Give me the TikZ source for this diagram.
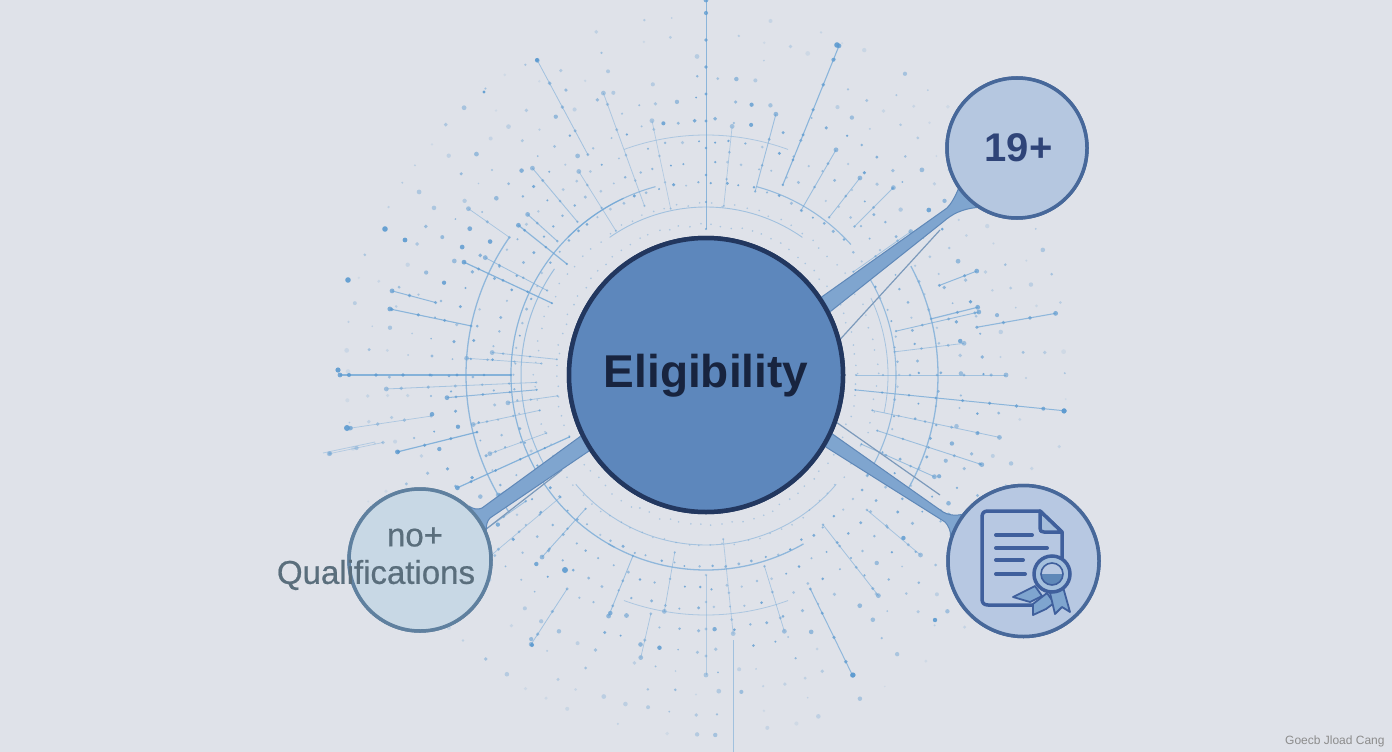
\documentclass[tikz,border=0pt]{standalone}
\usepackage{fontspec}
\setmainfont{Liberation Sans}
\newfontfamily\qualfont[FakeBold=0.6]{Liberation Sans}
\newfontfamily\footfont{Liberation Sans}
\usetikzlibrary{calc}
\definecolor{bgc}{HTML}{DFE2E9}
\definecolor{dotc}{HTML}{5C9AD0}
\definecolor{rayc}{HTML}{6FA6D6}
\definecolor{hubf}{HTML}{5D87BC}
\definecolor{hubd}{HTML}{22375F}
\definecolor{satd}{HTML}{47689A}
\definecolor{quald}{HTML}{5F809F}
\definecolor{spf}{HTML}{7FA5CF}
\definecolor{spd}{HTML}{5F88B8}
\definecolor{hairc}{HTML}{7C9ABB}
\definecolor{icon}{HTML}{3F5F9C}
\definecolor{agef}{HTML}{B5C7E0}
\definecolor{qualf}{HTML}{C8D8E5}
\definecolor{certf}{HTML}{B7C8E2}
\definecolor{qualt}{HTML}{5A6E7C}
\definecolor{aget}{HTML}{2F4478}
\definecolor{hubt}{HTML}{18243F}
\tikzset{
  hubnode/.style={circle,draw=hubd,line width=4.5pt,fill=hubf,minimum size=274pt,inner sep=0pt},
  satnode/.style={circle,draw=satd,line width=3.5pt,fill=#1,inner sep=0pt},
  spoke/.style={fill=spf,draw=spd,line width=1pt,line join=round},
  hair/.style={draw=hairc,line width=1.2pt},
  iconline/.style={draw=icon,line width=3.5pt,line cap=round,line join=round},
  ribbon/.style={draw=icon,line width=1.8pt,fill=spf,line join=round},
  textline/.style={draw=icon,line width=4pt,line cap=round},
  biglabel/.style={font=\qualfont\fontsize{33}{38}\selectfont,text=qualt,inner sep=0pt}
}
% angle, inner radius, outer radius, width, opacity
\newcommand{\rayset}{
  180/195/366/1.1/.8, 177.5/170/320/.8/.5, 175/170/260/1/.7, 171.5/278/360/.7/.45,
  172/150/200/.8/.5, 168/170/238/.8/.5, 166/236/318/1.2/.8, 168.2/330/385/.7/.4,
  155.6/150/273/1.2/.8, 160/170/230/.7/.5, 150/185/240/.7/.5, 145/220/290/.9/.6,
  191.8/240/323/1.1/.75, 195/280/325/1/.7, 186/150/215/.8/.5, 184/165/240/.7/.5,
  205/170/267/1.2/.8, 208/180/250/.8/.6, 218.6/178/240/1.2/.75, 222/200/240/1/.6,
  215/240/290/.7/.5, 230/200/270/.9/.55, 238/170/240/.7/.5, 241.8/250/357/.8/.55,
  250/180/300/.8/.45, 258/170/260/.7/.4, 270/146/375/1/.75, 276/170/250/.7/.45,
  285/190/270/.9/.6, 292/205/355/1.1/.75, 300/190/260/.9/.6, 308/200/250/.8/.6,
  315/210/265/.8/.55, 325/180/250/.8/.55, 347/195/280/.9/.65, 350/275/355/1.1/.7,
  346/232/280/1.2/.7, 339/250/290/1/.7, 353/190/260/.8/.5, 0/150/300/.7/.55,
  5.7/150/360/1/.75, 12/170/300/.8/.55, 18/180/290/.9/.6, 24/170/250/.9/.6,
  30/190/280/.8/.55, 40/210/280/.8/.5, 52/190/280/.8/.55, 64/238/334/1/.7,
  73/200/268/.7/.5, 84/165/260/.8/.4, 90/200/300/.6/.4, 103/245/290/.7/.5,
  112/195/260/.9/.6, 123/255/321/.8/.55, 132/180/245/.9/.6, 140/190/300/.7/.5,
  100/180/240/.7/.5
}
\begin{document}
\begin{tikzpicture}[x=1pt,y=-1pt]
\useasboundingbox (0,0) rectangle (1392,752);
\fill[bgc] (0,0) rectangle (1392,752);

\coordinate (ctr) at (706,375);

% radial dot field
\pgfmathsetseed{4711}
\foreach \a in {0,4,...,356}{
  \foreach \k in {0,...,10}{
    \pgfmathsetmacro\rr{150+21*\k+2*rand}
    \pgfmathsetmacro\aa{\a+0.6*rand}
    \pgfmathsetmacro\sz{(\k<2 ? 0.9 : (\k<5 ? 1.0+0.7*rnd : 0.9+1.5*rnd))}
    \pgfmathsetmacro\op{max(0.12,min(0.85,(\k<2 ? 0.4 : (\k<7 ? 0.35+0.5*rnd : 0.55-0.05*\k+0.4*rnd))))}
    \pgfmathsetmacro\keep{rnd<(1.08-0.05*\k) ? 1 : 0}
    \ifdim\keep pt>0.5pt
      \fill[dotc,opacity=\op] ($(ctr)+(\aa:\rr)$) circle[radius=\sz];
    \fi
  }
}

% radial segments with beads
\foreach \a/\ra/\rb/\w/\o in \rayset {
  \draw[rayc,line width=\w pt,opacity=\o] ($(ctr)+(\a:\ra)$) -- ($(ctr)+(\a:\rb)$);
  \fill[dotc,opacity=\o] ($(ctr)+(\a:\rb)$) circle[radius=2.4];
  \pgfmathtruncatemacro\n{(\rb-\ra)/27}
  \foreach \j in {0,...,\n}{
    \pgfmathsetmacro\rj{\ra+27*\j}
    \pgfmathsetmacro\bs{1.1+(\rj-150)/210}
    \fill[dotc,opacity=\o] ($(ctr)+(\a:\rj)$) circle[radius=\bs];
  }
}
\draw[rayc,line width=.8pt,opacity=.55] (733,640) -- (733,752);
\draw[rayc,line width=.8pt,opacity=.4] (323,453) -- (375,442);

% concentric arcs
\foreach \s/\e/\r/\w/\o in {
  118/245/195/1.2/.75, 150/215/185/1/.6, 145/215/240/1.3/.7,
  -32/32/190/1.1/.65, -28/30/232/1.3/.7, -25/12/182/.8/.5,
  225/255/195/1.1/.65, 285/318/195/1.1/.65, 235/305/168/.9/.55,
  60/120/195/1.3/.7, 40/140/170/.9/.5, 70/110/240/.8/.45, 250/290/240/.8/.45}{
  \draw[rayc,line width=\w pt,opacity=\o]
    ($(ctr)+(\s:\r)$) arc[start angle=\s,end angle=\e,radius=\r];
}

% a few marked dots
\foreach \x/\y/\sz in {837/45/2.8,537/60/2,853/675/2.6,532/645/2,1064/411/2.6,347/428/3,
  385/229/2.8,405/240/2.4,348/280/2.8,338/370/2.6,565/570/3,484/92/1.6,935/620/2.2}{
  \fill[dotc,opacity=.9] (\x,\y) circle[radius=\sz];
}

% named circles, first pass (spokes use their anchors)
\node[hubnode] (hub) at (706,375) {};
\node[satnode=agef,minimum size=140pt] (age) at (1017,148) {};
\node[satnode=qualf,draw=quald,minimum size=142pt] (qual) at (420,560) {};
\node[satnode=certf,minimum size=151pt] (cert) at (1023.5,561) {};

\coordinate (ageA) at (947,208);
\coordinate (ageB) at (943,222);
\coordinate (ageH) at (940,230);
\coordinate (qualA) at (482,508);
\coordinate (qualB) at (490,518);
\coordinate (qualH) at (562,470);
\coordinate (certA) at (943,512);
\coordinate (certB) at (945,522);
\coordinate (certH) at (940,495);

\draw[hair] (hub.15) -- (ageH);
\draw[spoke] (hub.34) -- (ageA) .. controls (951,204) and (955,197) .. (age.215) -- (age.236)
   .. controls (962,209) and (952,214) .. (ageB) -- (hub.27) -- cycle;
\draw[hair] (qual.25) -- (qualH);
\draw[spoke] (hub.206) -- (qualA) .. controls (478,510) and (473,509) .. (qual.48) -- (qual.24)
   .. controls (486,526) and (487,521) .. (qualB) -- (hub.213) -- cycle;
\draw[hair] (hub.-20) -- (certH);
\draw[spoke] (hub.-25) -- (certA) .. controls (948,515) and (955,516) .. (cert.143) -- (cert.161)
   .. controls (951,531) and (948,525) .. (certB) -- (hub.-31) -- cycle;

% circles again, on top of the spokes
\node[hubnode] at (hub) {};
\node[font=\bfseries\fontsize{46}{52}\selectfont,text=hubt,inner sep=0pt] (hublabel) at (706,375.5) {Eligibility};
\node[satnode=agef,minimum size=140pt] at (age) {};
\node[font=\bfseries\fontsize{40}{46}\selectfont,text=aget,inner sep=0pt] (agelabel) at (1018.5,148) {19+};
\node[satnode=qualf,draw=quald,minimum size=142pt] at (qual) {};
\node[satnode=certf,minimum size=151pt] at (cert) {};

\node[biglabel] (nolabel) at (415,537) {no+};
\node[biglabel] (qlabel) at (376,575) {Qualifications};

% certificate icon
\draw[iconline] (1033,605) -- (988,605) .. controls (984,605) and (982,603) .. (982,599)
  -- (982,517) .. controls (982,513) and (984,511) .. (988,511)
  -- (1040,511) -- (1062,532) -- (1062,558);
\draw[iconline,fill=agef!70!spf] (1040,511) -- (1040,528) .. controls (1040,531) and (1041,532) .. (1044,532) -- (1062,532) -- cycle;
\draw[textline] (996,535) -- (1032,535);
\draw[textline] (996,548) -- (1047,548);
\draw[textline] (996,560) -- (1023,560);
\draw[textline] (996,574) -- (1025,574);
\draw[ribbon] (1013,597) -- (1035,586) -- (1042,596) -- (1030,602) -- cycle;
\draw[ribbon] (1033,615) -- (1033,604) -- (1047,593) -- (1054,603) -- (1046,609) -- cycle;
\draw[ribbon] (1050,593) -- (1063,587) -- (1070,612) -- (1062,607) -- (1055,614) -- cycle;
\fill[spf!70!white] (1052,574) circle[radius=19];
\draw[icon,line width=3.5pt] (1052,574) circle[radius=18];
\fill[certf] (1052,574) circle[radius=11];
\begin{scope}
\clip (1040,574) rectangle (1064,590);
\fill[spd] (1052,574) circle[radius=11];
\end{scope}
\draw[icon,line width=1.6pt] (1052,574) circle[radius=11];

% footer text, cut by the picture edge
\begin{scope}
\clip (0,0) rectangle (1392,752);
\node[anchor=west,font=\footfont\fontsize{12}{14}\selectfont,text=black!45,inner sep=0pt] (foot) at (1285,741) {Goecb Jload Cang};
\end{scope}
\end{tikzpicture}
\end{document}
